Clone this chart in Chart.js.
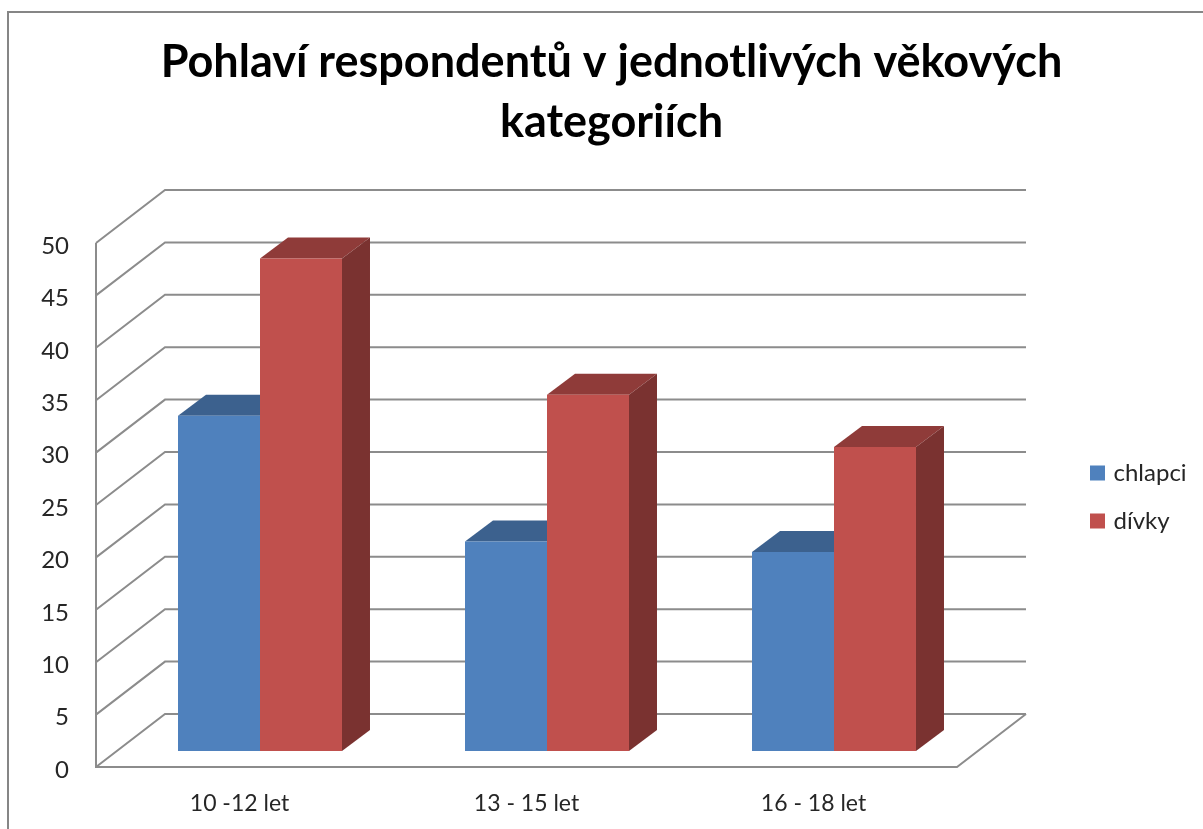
<!DOCTYPE html>
<html><head><meta charset="utf-8">
<style>html,body{margin:0;padding:0;background:#fff;overflow:hidden}canvas{display:block;filter:blur(0.4px)}</style>
<script src="https://cdn.jsdelivr.net/npm/chart.js@4/dist/chart.umd.min.js"></script>
</head><body><canvas id="c" width="1203" height="829"></canvas>
<script>
const categories = ['10 -12 let', '13 - 15 let', '16 - 18 let'];
const chlapci = [32, 20, 19];
const divky = [47, 34, 29];
const titleLines = ['Pohlaví respondentů v jednotlivých věkových', 'kategoriích'];

const GRID = '#8c8c8c', TXT = '#262626';
const WALL = {dx: 69, dy: -53}, PLANE = {dx: 20.5, dy: -16}, DEPTH = {dx: 28, dy: -21};

const threeD = {
  id: 'threeD',
  beforeLayout(chart) {
    const l = chart.legend, y = chart.scales.y;
    if (!l._fixed) {
      l._fixed = true;
      const f = l.fit;
      l.fit = function () { f.call(this); this.width = 246; };
    }
    if (!y._fixed) {
      y._fixed = true;
      const g = y._computeLabelItems;
      y._computeLabelItems = function (a) {
        const items = g.call(this, a);
        items.forEach(i => { i.textOffset += 3; });
        return items;
      };
    }
  },
  afterLayout(chart) {
    const t = chart.titleBlock, l = chart.legend;
    t.left += 10; t.right += 10;
    l.left = 1069.5; l.top = 397; l.bottom = 597;
  },
  beforeDraw(chart) {
    const {ctx} = chart;
    ctx.save();
    ctx.strokeStyle = '#868686'; ctx.lineWidth = 2;
    ctx.strokeRect(8, 12, 1300, 900);
    ctx.restore();
  },
  beforeDatasetsDraw(chart) {
    const {ctx, chartArea: a, scales: {y}} = chart;
    ctx.save();
    ctx.strokeStyle = GRID; ctx.lineWidth = 2; ctx.lineJoin = 'miter';
    y.ticks.forEach(t => {
      const p = y.getPixelForValue(t.value);
      ctx.beginPath();
      ctx.moveTo(a.left, p);
      ctx.lineTo(a.left + WALL.dx, p + WALL.dy);
      ctx.lineTo(a.right + WALL.dx, p + WALL.dy);
      ctx.stroke();
    });
    const p0 = y.getPixelForValue(0);
    ctx.beginPath();
    ctx.moveTo(a.left, y.getPixelForValue(50));
    ctx.lineTo(a.left, p0);
    ctx.lineTo(a.right, p0);
    ctx.lineTo(a.right + WALL.dx, p0 + WALL.dy);
    ctx.stroke();
    ctx.translate(PLANE.dx, PLANE.dy);
    chart.data.datasets.forEach((ds, i) => {
      chart.getDatasetMeta(i).data.forEach(el => {
        const {x, y: top, base, width} = el.getProps(['x', 'y', 'base', 'width'], true);
        const L = x - width / 2, R = x + width / 2;
        ctx.fillStyle = ds.topColor;
        ctx.beginPath();
        ctx.moveTo(L, top); ctx.lineTo(L + DEPTH.dx, top + DEPTH.dy);
        ctx.lineTo(R + DEPTH.dx, top + DEPTH.dy); ctx.lineTo(R, top);
        ctx.closePath(); ctx.fill();
        ctx.fillStyle = ds.sideColor;
        ctx.beginPath();
        ctx.moveTo(R, top); ctx.lineTo(R + DEPTH.dx, top + DEPTH.dy);
        ctx.lineTo(R + DEPTH.dx, base + DEPTH.dy); ctx.lineTo(R, base);
        ctx.closePath(); ctx.fill();
      });
    });
    ctx.restore();
  },
  beforeDatasetDraw(chart) {
    chart.ctx.save();
    chart.ctx.translate(PLANE.dx, PLANE.dy);
  },
  afterDatasetDraw(chart) { chart.ctx.restore(); }
};

new Chart(document.getElementById('c'), {
  type: 'bar',
  data: {
    labels: categories,
    datasets: [
      {label: 'chlapci', data: chlapci, backgroundColor: '#4f81bd', topColor: '#3c618e', sideColor: '#2f4d70', clip: false},
      {label: 'dívky', data: divky, backgroundColor: '#c0504d', topColor: '#8f3b39', sideColor: '#7a3230', clip: false}
    ]
  },
  options: {
    responsive: false, animation: false,
    events: [],
    layout: {padding: 0},
    datasets: {bar: {categoryPercentage: 0.5714, barPercentage: 1, borderWidth: 0}},
    plugins: {
      tooltip: {enabled: false},
      title: {
        display: true, text: titleLines, color: '#000',
        font: {family: 'Lato', size: 45, weight: 'bold', lineHeight: 60 / 45},
        padding: {top: 32, bottom: 91}
      },
      legend: {
        display: true, position: 'right',
        labels: {
          color: TXT, font: {family: 'Lato', size: 24}, boxWidth: 8, boxHeight: 8, padding: 24,
          generateLabels: c => Chart.defaults.plugins.legend.labels.generateLabels(c).map(l => ({...l, lineWidth: 7, strokeStyle: l.fillStyle}))
        }
      }
    },
    scales: {
      x: {
        afterFit(s) { s.height = 62; },
        grid: {display: false, drawTicks: false}, border: {display: false},
        ticks: {color: TXT, font: {family: 'Lato', size: 23}, padding: 23, maxRotation: 0}
      },
      y: {
        min: 0, max: 50,
        afterFit(s) { s.width = 96; },
        grid: {display: false, drawTicks: false}, border: {display: false},
        ticks: {color: TXT, font: {family: 'Lato', size: 24}, stepSize: 5, padding: 27}
      }
    }
  },
  plugins: [threeD]
});
</script>
</body></html>
